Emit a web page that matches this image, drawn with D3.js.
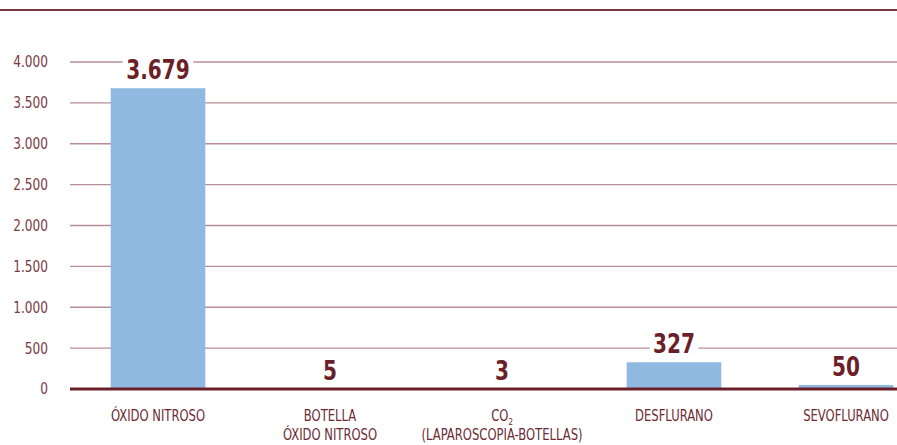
<!DOCTYPE html>
<html><head><meta charset="utf-8">
<script src="https://cdn.jsdelivr.net/npm/d3@7"></script>
<style>
html,body{margin:0;padding:0;background:#fff;}
svg{display:block;}
text{font-family:"DejaVu Sans Condensed","DejaVu Sans",sans-serif;}
</style></head>
<body>
<script>
const categories = ["ÓXIDO NITROSO", "BOTELLA|ÓXIDO NITROSO", "CO₂|(LAPAROSCOPIA-BOTELLAS)", "DESFLURANO", "SEVOFLURANO"];
const values = [3679, 5, 3, 327, 50];
const valueLabels = ["3.679", "5", "3", "327", "50"];
const yTicks = [0, 500, 1000, 1500, 2000, 2500, 3000, 3500, 4000];
const yTickLabels = ["0", "500", "1.000", "1.500", "2.000", "2.500", "3.000", "3.500", "4.000"];

const W = 897, H = 445;
const SX = 0.86;
const svg = d3.select("body").append("svg").attr("width", W).attr("height", H);

const x = d3.scaleBand().domain(categories).range([72, 932]).paddingInner(0.45).paddingOuter(0.225);
const y = d3.scaleLinear().domain([0, 4000]).range([389, 62]);

// top rule
svg.append("line").attr("x1", 0).attr("x2", W).attr("y1", 10).attr("y2", 10)
  .attr("stroke", "#7a3540").attr("stroke-width", 2);

// grid
svg.append("g").selectAll("line").data(yTicks.filter(d => d > 0)).join("line")
  .attr("x1", 70).attr("x2", W)
  .attr("y1", d => y(d)).attr("y2", d => y(d))
  .attr("stroke", "#b78e95").attr("stroke-width", 1.3);

// y tick labels
svg.append("g").selectAll("g").data(yTicks).join("g")
  .attr("transform", d => `translate(48,${y(d)}) scale(0.9,1)`)
  .append("text").attr("dy", "0.36em")
  .attr("text-anchor", "end").attr("font-size", 15).attr("fill", "#7a3a45")
  .text((d, i) => yTickLabels[i]);

// bars
svg.append("g").selectAll("rect").data(values).join("rect")
  .attr("x", (d, i) => x(categories[i])).attr("width", x.bandwidth())
  .attr("y", d => y(d)).attr("height", d => y(0) - y(d))
  .attr("fill", "#8fb9e1");

// axis
svg.append("line").attr("x1", 70).attr("x2", W).attr("y1", y(0)).attr("y2", y(0))
  .attr("stroke", "#6b1f28").attr("stroke-width", 3);

// value labels with white background
svg.append("g").selectAll("g").data(values).join("g").each(function(d, i) {
  const cx = x(categories[i]) + x.bandwidth() / 2;
  const g = d3.select(this).attr("transform", `translate(${cx},${y(d) - 9}) scale(${SX},1)`);
  const t = g.append("text").attr("text-anchor", "middle").attr("font-size", 26)
    .attr("font-weight", "bold").attr("fill", "#6b1f28").text(valueLabels[i]);
  const bb = t.node().getBBox();
  g.insert("rect", "text").attr("x", bb.x - 4).attr("y", bb.y + 5).attr("width", bb.width + 8)
    .attr("height", bb.height - 10).attr("fill", "#fff");
});

// category labels
svg.append("g").selectAll("g").data(categories).join("g")
  .attr("transform", d => `translate(${x(d) + x.bandwidth() / 2},0) scale(${SX},1)`)
  .each(function(d) {
    const t = d3.select(this).append("text").attr("text-anchor", "middle")
      .attr("font-size", 15).attr("fill", "#6b2a33");
    d.split("|").forEach((line, k) => {
      const parts = line.split("₂");
      const ts = t.append("tspan").attr("x", 0).attr("y", 421 + k * 19).text(parts[0]);
      if (parts.length > 1) {
        t.append("tspan").attr("font-size", 9).attr("dy", 4).text("2");
        if (parts[1]) t.append("tspan").attr("dy", -4).text(parts[1]);
      }
    });
  });
</script>
</body></html>
